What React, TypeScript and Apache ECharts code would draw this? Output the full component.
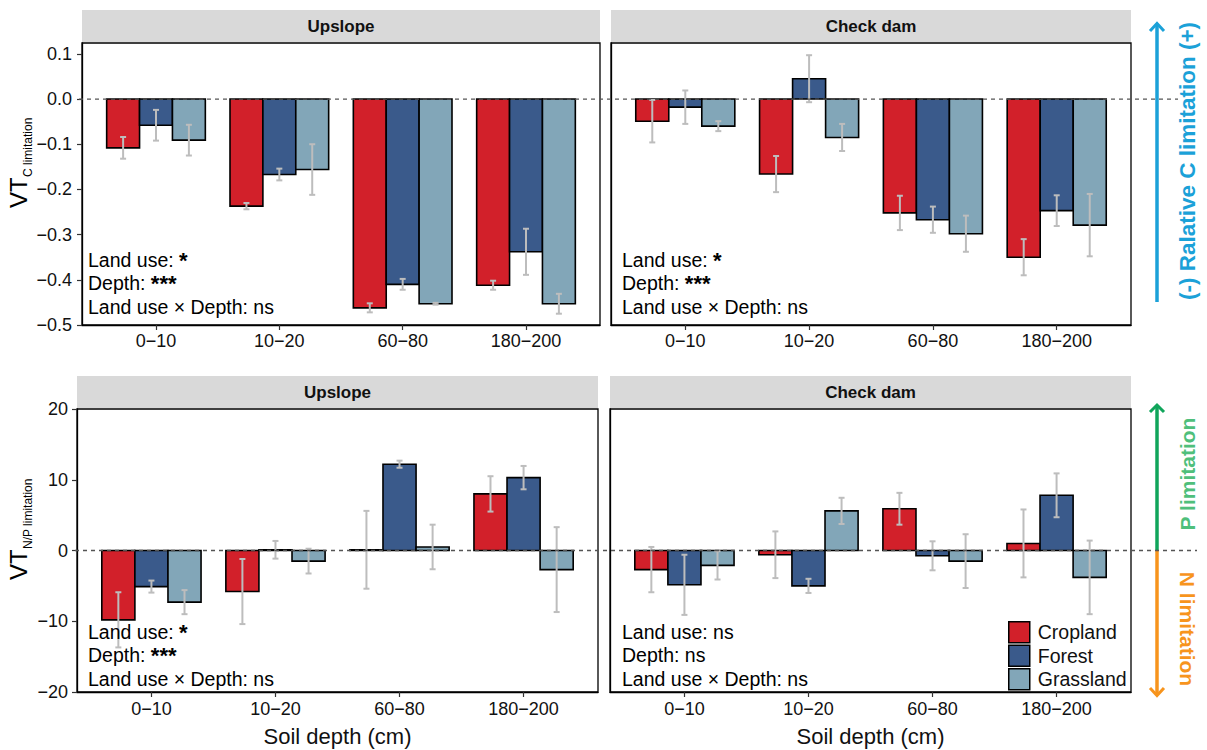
import React, { useEffect, useRef } from 'react';
import * as echarts from 'echarts';

const depths = ['0−10', '10−20', '60−80', '180−200'];
const landUses = ['Cropland', 'Forest', 'Grassland'];
const colors = ['#D2202A', '#3A5A8B', '#82A6B8'];

// VT C limitation — Upslope
const cUpCropMean = [-0.108, -0.237, -0.462, -0.412];
const cUpCropSe = [0.024, 0.007, 0.01, 0.01];
const cUpForMean = [-0.058, -0.167, -0.41, -0.338];
const cUpForSe = [0.034, 0.013, 0.012, 0.051];
const cUpGraMean = [-0.091, -0.156, -0.453, -0.453];
const cUpGraSe = [0.034, 0.056, 0.002, 0.022];
// VT C limitation — Check dam
const cDamCropMean = [-0.049, -0.166, -0.252, -0.35];
const cDamCropSe = [0.047, 0.04, 0.038, 0.04];
const cDamForMean = [-0.018, 0.045, -0.267, -0.247];
const cDamForSe = [0.037, 0.052, 0.029, 0.034];
const cDamGraMean = [-0.06, -0.085, -0.298, -0.279];
const cDamGraSe = [0.011, 0.03, 0.04, 0.069];
// VT N/P limitation — Upslope
const npUpCropMean = [-9.8, -5.8, 0.1, 8.0];
const npUpCropSe = [3.9, 4.6, 5.5, 2.5];
const npUpForMean = [-5.1, 0.1, 12.2, 10.3];
const npUpForSe = [0.85, 1.25, 0.5, 1.65];
const npUpGraMean = [-7.3, -1.5, 0.5, -2.7];
const npUpGraSe = [1.7, 1.75, 3.15, 6.0];
// VT N/P limitation — Check dam
const npDamCropMean = [-2.7, -0.6, 5.9, 1.0];
const npDamCropSe = [3.2, 3.3, 2.25, 4.8];
const npDamForMean = [-4.85, -5.0, -0.75, 7.8];
const npDamForSe = [4.25, 1.0, 2.05, 3.1];
const npDamGraMean = [-2.1, 5.6, -1.5, -3.8];
const npDamGraSe = [2.0, 1.85, 3.8, 5.2];

const cTicks = [-0.5, -0.4, -0.3, -0.2, -0.1, 0, 0.1];
const npTicks = [-20, -10, 0, 10, 20];
const xTicks = [1, 2, 3, 4];

const stripTitles = ['Upslope', 'Check dam', 'Upslope', 'Check dam'];
const statsLines = [
  ['Land use: {s|*}', 'Depth: {s|***}', 'Land use × Depth: ns'],
  ['Land use: {s|*}', 'Depth: {s|***}', 'Land use × Depth: ns'],
  ['Land use: {s|*}', 'Depth: {s|***}', 'Land use × Depth: ns'],
  ['Land use: ns', 'Depth: ns', 'Land use × Depth: ns'],
];

const FONT = '"Liberation Sans", Arial, Helvetica, sans-serif';
const TXT = '#111';

const panels = [
  { left: 82, top: 43, width: 518, height: 282 },
  { left: 611, top: 43, width: 520, height: 282 },
  { left: 77, top: 409, width: 521, height: 283 },
  { left: 610, top: 409, width: 521, height: 283 },
];
const statsX = [88, 622, 88, 622];
const statsY = [[260, 283, 307], [260, 283, 307], [632, 655, 679], [632, 655, 679]];

const panelData = [
  [[cUpCropMean, cUpCropSe], [cUpForMean, cUpForSe], [cUpGraMean, cUpGraSe]],
  [[cDamCropMean, cDamCropSe], [cDamForMean, cDamForSe], [cDamGraMean, cDamGraSe]],
  [[npUpCropMean, npUpCropSe], [npUpForMean, npUpForSe], [npUpGraMean, npUpGraSe]],
  [[npDamCropMean, npDamCropSe], [npDamForMean, npDamForSe], [npDamGraMean, npDamGraSe]],
];

const BW = 0.8 / 3;

function makeRender(k: number) {
  return (params: any, api: any) => {
    const x = api.value(0) + (k - 1) * BW;
    const v = api.value(1);
    const se = api.value(2);
    const a = api.coord([x - BW / 2, v]);
    const b = api.coord([x + BW / 2, 0]);
    const t = api.coord([x, v + se]);
    const bt = api.coord([x, v - se]);
    const cap = 3;
    const errStyle = { stroke: '#BDBDBD', lineWidth: 2 };
    return {
      type: 'group',
      children: [
        {
          type: 'rect',
          shape: { x: a[0], y: Math.min(a[1], b[1]), width: b[0] - a[0], height: Math.abs(b[1] - a[1]) },
          style: { fill: colors[k], stroke: '#000', lineWidth: 1.6 },
        },
        { type: 'line', shape: { x1: t[0], y1: t[1], x2: bt[0], y2: bt[1] }, style: errStyle },
        { type: 'line', shape: { x1: t[0] - cap, y1: t[1], x2: t[0] + cap, y2: t[1] }, style: errStyle },
        { type: 'line', shape: { x1: bt[0] - cap, y1: bt[1], x2: bt[0] + cap, y2: bt[1] }, style: errStyle },
      ],
    };
  };
}

function fmtC(v: number) {
  const s = Math.abs(v).toFixed(1);
  return v < -1e-9 ? '−' + s : s;
}
function fmtNP(v: number) {
  const s = String(Math.round(Math.abs(v)));
  return v < -1e-9 ? '−' + s : s;
}

function buildOption(zeroY: number[] | null) {
  const grid = panels.map((p) => ({
    left: p.left, top: p.top, width: p.width, height: p.height,
    show: true, borderColor: '#000', borderWidth: 1.3, backgroundColor: '#fff', containLabel: false,
  }));
  const xAxis = panels.map((p, i) => ({
    type: 'value', gridIndex: i, min: 0.4, max: 4.6,
    splitLine: { show: false },
    axisLine: { show: true, onZero: false, lineStyle: { color: '#000', width: 1.3 } },
    axisTick: { show: true, customValues: xTicks, length: 5, lineStyle: { color: '#333', width: 1.2 } },
    axisLabel: {
      customValues: xTicks, formatter: (v: number) => depths[Math.round(v) - 1] || '',
      fontSize: 18, color: TXT, margin: i < 2 ? 7 : 8, fontFamily: FONT,
    },
    name: i >= 2 ? 'Soil depth (cm)' : '',
    nameLocation: 'middle', nameGap: 33,
    nameTextStyle: { fontSize: 22, color: TXT, fontFamily: FONT },
  }));
  const yAxis = panels.map((p, i) => {
    const isC = i < 2;
    const left = i % 2 === 0;
    return {
      type: 'value', gridIndex: i,
      min: isC ? -0.5 : -20, max: isC ? 0.124 : 20,
      splitLine: { show: false },
      axisLine: { show: true, onZero: false, lineStyle: { color: '#000', width: 1.3 } },
      axisTick: { show: left, customValues: isC ? cTicks : npTicks, length: 5, lineStyle: { color: '#333', width: 1.2 } },
      axisLabel: {
        show: left, customValues: isC ? cTicks : npTicks,
        formatter: (v: number) => (isC ? fmtC(v) : fmtNP(v)),
        fontSize: 18, color: TXT, margin: isC ? 10 : 9, fontFamily: FONT,
      },
    };
  });

  const series: any[] = [];
  panelData.forEach((pd, i) => {
    pd.forEach(([means, ses], k) => {
      series.push({
        type: 'custom', name: landUses[k], xAxisIndex: i, yAxisIndex: i,
        data: means.map((m: number, j: number) => [xTicks[j], m, ses[j]]),
        encode: { x: 0, y: 1 },
        renderItem: makeRender(k), itemStyle: { color: colors[k] },
        silent: true, clip: false, z: 2,
      });
    });
  });

  const graphic: any[] = [];
  panels.forEach((p, i) => {
    graphic.push({
      type: 'rect', shape: { x: p.left, y: p.top - 33, width: p.width, height: 32 },
      style: { fill: '#D9D9D9' }, silent: true,
    });
    graphic.push({
      type: 'text', x: p.left + p.width / 2, y: p.top - 17,
      style: { text: stripTitles[i], fontSize: 17, fontWeight: 'bold', fill: TXT, align: 'center', verticalAlign: 'middle', fontFamily: FONT },
      silent: true,
    });
    statsLines[i].forEach((line, j) => {
      graphic.push({
        type: 'text', x: statsX[i], y: statsY[i][j], z: 50,
        style: {
          text: line, fontSize: 19.5, fill: '#000', align: 'left', verticalAlign: 'middle', fontFamily: FONT,
          rich: { s: { fontSize: 22, fontWeight: 'bold', fill: '#000', fontFamily: FONT } },
        },
        silent: true,
      });
    });
  });

  // y-axis titles
  const yTitles = [
    { y: 208, sub: 'C limitation' },
    { y: 580, sub: 'N/P limitation' },
  ];
  yTitles.forEach((yt) => {
    graphic.push({
      type: 'group', x: 18.5, y: yt.y, rotation: Math.PI / 2, silent: true,
      children: [
        { type: 'text', x: 0, y: 0, style: { text: 'VT', fontSize: 24, fill: '#000', align: 'left', verticalAlign: 'middle', fontFamily: FONT } },
        { type: 'text', x: 31, y: 9, style: { text: yt.sub, fontSize: 12, fill: '#000', align: 'left', verticalAlign: 'middle', fontFamily: FONT } },
      ],
    });
  });

  // right-side indicator arrows
  const AX = 1157;
  const blue = '#1BA1D8';
  const green = '#10A55B';
  const orange = '#F7941D';
  const y0b = zeroY ? zeroY[1] : 550.5;
  graphic.push({ type: 'line', shape: { x1: AX, y1: 302, x2: AX, y2: 24 }, style: { stroke: blue, lineWidth: 3.5 }, silent: true });
  graphic.push({ type: 'polyline', shape: { points: [[AX - 7, 31], [AX, 23.5], [AX + 7, 31]] }, style: { stroke: blue, lineWidth: 3, fill: null }, silent: true });
  graphic.push({ type: 'line', shape: { x1: AX, y1: y0b, x2: AX, y2: 406 }, style: { stroke: green, lineWidth: 3.5 }, silent: true });
  graphic.push({ type: 'polyline', shape: { points: [[AX - 7, 412], [AX, 405], [AX + 7, 412]] }, style: { stroke: green, lineWidth: 3, fill: null }, silent: true });
  graphic.push({ type: 'line', shape: { x1: AX, y1: y0b, x2: AX, y2: 695 }, style: { stroke: orange, lineWidth: 3.5 }, silent: true });
  graphic.push({ type: 'polyline', shape: { points: [[AX - 7, 688], [AX, 695.5], [AX + 7, 688]] }, style: { stroke: orange, lineWidth: 3, fill: null }, silent: true });
  graphic.push({
    type: 'text', x: 1187, y: 161, rotation: Math.PI / 2, silent: true,
    style: { text: '(-) Ralative C limitation (+)', fontSize: 22.5, fontWeight: 'bold', fill: blue, align: 'center', verticalAlign: 'middle', fontFamily: FONT },
  });
  graphic.push({
    type: 'text', x: 1187, y: 474, rotation: Math.PI / 2, silent: true,
    style: { text: 'P limitation', fontSize: 21, fontWeight: 'bold', fill: '#4FBF7B', align: 'center', verticalAlign: 'middle', fontFamily: FONT },
  });
  graphic.push({
    type: 'text', x: 1187, y: 629, rotation: -Math.PI / 2, silent: true,
    style: { text: 'N limitation', fontSize: 21, fontWeight: 'bold', fill: orange, align: 'center', verticalAlign: 'middle', fontFamily: FONT },
  });

  if (zeroY) {
    const dash = { stroke: '#555', lineWidth: 1.3, lineDash: [4, 4] };
    graphic.push({ type: 'line', z: 100, shape: { x1: 79, y1: zeroY[0], x2: 1178, y2: zeroY[0] }, style: dash, silent: true });
    graphic.push({ type: 'line', z: 100, shape: { x1: 75, y1: zeroY[1], x2: 1197, y2: zeroY[1] }, style: dash, silent: true });
  }

  return {
    animation: false,
    backgroundColor: '#fff',
    textStyle: { fontFamily: FONT },
    grid, xAxis, yAxis, series, graphic,
    legend: {
      orient: 'vertical', left: 1008, top: 621, padding: 0, itemWidth: 21, itemHeight: 21, itemGap: 1,
      icon: 'rect', selectedMode: false,
      textStyle: { fontSize: 19.5, color: TXT, fontFamily: FONT, padding: [0, 0, 0, 3] },
      data: landUses.map((n, i) => ({ name: n, itemStyle: { color: colors[i], borderColor: '#000', borderWidth: 1.5 } })),
    },
  };
}

export default function App() {
  const ref = useRef<HTMLDivElement>(null);
  useEffect(() => {
    if (!ref.current) return;
    const chart = echarts.init(ref.current, undefined, { renderer: 'svg' });
    chart.setOption(buildOption(null) as any);
    const z0 = chart.convertToPixel({ xAxisIndex: 0, yAxisIndex: 0 } as any, [1, 0]) as any;
    const z2 = chart.convertToPixel({ xAxisIndex: 2, yAxisIndex: 2 } as any, [1, 0]) as any;
    chart.setOption(buildOption([z0[1], z2[1]]) as any, true);
    return () => chart.dispose();
  }, []);
  return (
    <div
      ref={ref}
      style={{ position: 'fixed', left: 0, top: 0, width: 1207, height: 750, background: '#fff' }}
    />
  );
}
